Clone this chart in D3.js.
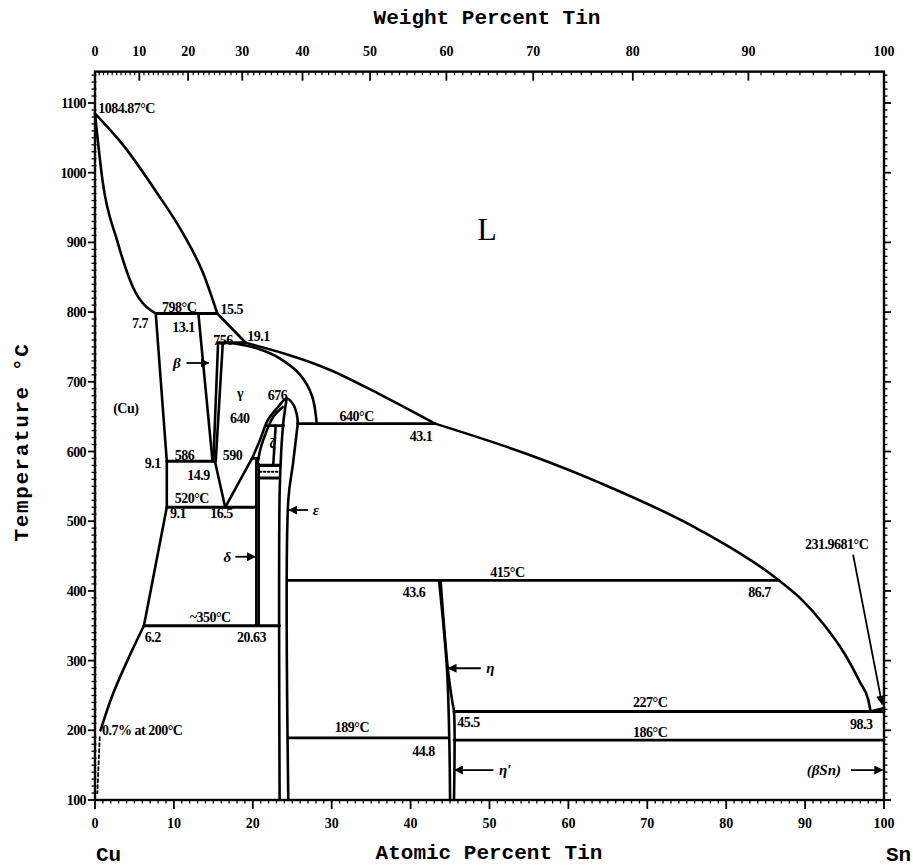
<!DOCTYPE html>
<html><head><meta charset="utf-8">
<script src="https://cdn.jsdelivr.net/npm/d3@7"></script>
<style>
body{margin:0;background:#fff}
svg text{font-family:"Liberation Serif",serif;font-weight:bold;fill:#000}
.title{font-family:"Liberation Mono",monospace}
</style>
</head><body>
<svg id="chart" width="913" height="866"></svg>
<script>
// ---------------- DATA ----------------
const atomicTicks = d3.range(0, 101, 10);
const weightTicks = d3.range(0, 101, 10);
const tempTicks = d3.range(100, 1101, 100);
const MASS_CU = 63.546, MASS_SN = 118.71;

// phase boundaries: [atomic % Sn, temperature °C]
const liquidusCu   = [[0,1084.87],[3.55,1040],[7.86,971],[11.15,913],[13.7,856],[15.5,798]];
const liquidusBeta = [[15.5,798],[19.1,756]];
const liquidusGam  = [[19.1,756],[29.8,717],[36.1,682],[43.1,640]];
const liquidusSnS  = [[43.1,640],[55.1,595],[64.0,555],[76.7,487],[86.7,415],[89.35,390],[92.5,350],[95.1,308],[97.0,268],[98.0,244],[98.3,227]];
const liquidusSn   = [[98.3,227],[100,231.97]];
const solidusCu    = [[0,1084.87],[1.0,985],[2.8,903],[4.8,836],[7.7,798]];
const cuBoundary   = [[7.7,798],[9.1,586],[9.1,520],[6.2,350]];
const cuSolvus     = [[6.2,350],[4.1,300],[2.2,250],[0.7,200]];
const cuSolvusLow  = [[0.6,190],[0.3,110]];
const betaLeft     = [[13.1,798],[14.9,586]];
const betaGammaA   = [[15.6,756],[15.0,586]];
const betaGammaB   = [[16.2,756],[15.3,586]];
const gammaLeftLow = [[15.2,586],[16.5,520]];
const gammaRightLow= [[16.5,520],[19.9,590]];
const gammaSolidus = [[17.2,756],[20.5,748],[23.5,733],[26.0,710],[27.5,680],[28.1,640]];
const domeOuter    = [[19.9,590],[20.9,616],[21.9,645],[23.2,664],[24.3,676],[25.1,668],[25.6,652],[25.7,640]];
const epsRight     = [[25.7,640],[25.1,583],[24.5,530],[24.5,100]];
const epsLeft      = [[24.3,676],[23.9,645],[23.6,600],[23.4,540],[23.4,100]];
const zetaArc      = [[20.6,582],[21.0,605],[21.7,628],[22.6,650],[23.8,664]];
const zetaRight    = [[22.9,637],[22.6,582]];
const deltaLeft    = [[20.45,590],[20.45,350]];
const deltaRight   = [[20.75,582],[20.75,350]];
const etaLeft      = [[43.6,415],[44.6,290],[44.9,189],[45.0,100]];
const etaRight     = [[43.8,415],[44.7,290],[45.3,240],[45.5,227],[45.5,100]];

const monoCurves = [liquidusCu, liquidusGam, liquidusSnS, solidusCu];
const smoothCurves = [cuSolvus, gammaSolidus, domeOuter, epsRight, epsLeft, zetaArc, etaLeft, etaRight];
const straightCurves = [liquidusBeta, liquidusSn, cuBoundary, betaLeft, betaGammaA, betaGammaB, gammaLeftLow, gammaRightLow, zetaRight, deltaLeft, deltaRight];

// invariant (horizontal) lines: [T, from at%, to at%]
const isotherms = [[798,7.7,15.5],[756,15.6,19.1],[640,25.7,43.1],[637,21.7,23.9],[586,9.1,15.2],[590,19.9,20.75],
  [580,20.6,23.4],[562,20.6,23.4],[520,9.1,20.45],[415,24.5,86.7],[350,6.2,23.4],[227,45.5,100],[189,24.5,44.8],[186,45.5,100]];

// labels: [text, at%, T]
const labels = [
  ["1084.87°C",0.4,1086],["798°C",8.5,800],["15.5",15.9,797],["7.7",4.7,777],["13.1",9.8,771],
  ["756",15.0,753],["19.1",19.3,758],["γ",18.0,677],["(Cu)",2.3,655],["676",21.9,674],
  ["640",17.1,641],["640°C",31.0,644],["43.1",39.9,615],["9.1",6.3,576],["586",10.1,588],["14.9",11.7,559],
  ["590",16.2,588],["520°C",10.1,526],["9.1",9.5,505],["16.5",14.6,505],["~350°C",12.0,355],
  ["6.2",6.3,327],["20.63",18.0,327],["415°C",50.1,420],["43.6",39.0,391],["86.7",82.8,391],
  ["227°C",68.2,233],["45.5",45.9,205],["98.3",95.7,202],["186°C",68.2,190],["189°C",30.4,197],
  ["44.8",40.2,163],["0.7% at 200°C",0.9,193],["231.9681°C",90.0,460],["ζ",22.1,605]
];
// arrow labels: [text, text at%, T, arrow from at%, arrow to at%]
const arrowLabels = [
  ["β",9.9,727,11.6,14.4],["δ",16.3,449,17.8,20.3],["ε",27.6,516,27.0,24.6],
  ["η",49.6,289,48.9,44.8],["η′",51.2,143,50.5,45.6],["(βSn)",90.2,143,95.8,99.8]
];
const leader = [[96.1,451],[99.75,238]];

// ---------------- DRAW ----------------
const svg = d3.select("#chart");
const X0 = 95, X1 = 884, YB = 800, YT = 103;
const x = d3.scaleLinear().domain([0,100]).range([X0,X1]);
const y = d3.scaleLinear().domain([100,1100]).range([YB,YT]);
const topT = 1145;
const wToA = w => w<=0?0:(w>=100?100:100*(w/MASS_SN)/((w/MASS_SN)+((100-w)/MASS_CU)));

svg.append("defs").append("marker").attr("id","ah").attr("viewBox","0 0 10 10")
  .attr("refX",9).attr("refY",5).attr("markerWidth",5).attr("markerHeight",5).attr("orient","auto")
  .append("path").attr("d","M0,0L10,5L0,10z").attr("fill","#000");

// frame
svg.append("rect").attr("x",X0).attr("y",y(topT)).attr("width",X1-X0).attr("height",YB-y(topT))
  .attr("fill","none").attr("stroke","#000").attr("stroke-width",2.4);

// bottom axis
const gB = svg.append("g");
d3.range(0,101,1).forEach(v=>{
  const major = v%10===0;
  gB.append("line").attr("x1",x(v)).attr("x2",x(v)).attr("y1",YB).attr("y2",YB+(major?9:3.5))
    .attr("stroke","#000").attr("stroke-width",major?1.8:1.3);
});
atomicTicks.forEach(v=>gB.append("text").attr("x",x(v)).attr("y",828).attr("text-anchor","middle")
  .attr("font-size",14).text(v));

// top axis (weight percent)
const gT = svg.append("g");
const yTop = y(topT);
d3.range(0,101,1).forEach(w=>{
  const major = w%10===0;
  gT.append("line").attr("x1",x(wToA(w))).attr("x2",x(wToA(w))).attr("y1",yTop).attr("y2",yTop+(major?9:3.5))
    .attr("stroke","#000").attr("stroke-width",major?1.8:1.2);
});
weightTicks.forEach(w=>gT.append("text").attr("x",x(wToA(w))).attr("y",56).attr("text-anchor","middle")
  .attr("font-size",14).text(w));

// left & right axes
const gL = svg.append("g");
d3.range(100,1141,10).forEach(t=>{
  const major = t%100===0;
  gL.append("line").attr("x1",X0-(major?7:3.5)).attr("x2",X0+(major?0:1.5)).attr("y1",y(t)).attr("y2",y(t))
    .attr("stroke","#000").attr("stroke-width",major?1.8:1.3);
  gL.append("line").attr("x1",X1).attr("x2",X1+(major?7:3.5)).attr("y1",y(t)).attr("y2",y(t))
    .attr("stroke","#000").attr("stroke-width",major?1.8:1.3);
});
tempTicks.forEach(t=>gL.append("text").attr("x",86).attr("y",y(t)+5).attr("text-anchor","end")
  .attr("font-size",14).attr("letter-spacing",-0.6).text(t));

// titles
svg.append("text").attr("class","title").attr("x",487).attr("y",24).attr("text-anchor","middle").attr("font-size",21).text("Weight Percent Tin");
svg.append("text").attr("class","title").attr("x",489).attr("y",859).attr("text-anchor","middle").attr("font-size",21).text("Atomic Percent Tin");
svg.append("text").attr("class","title").attr("x",96).attr("y",861).attr("font-size",21).text("Cu");
svg.append("text").attr("class","title").attr("x",886).attr("y",861).attr("font-size",21).text("Sn");
svg.append("text").attr("class","title").attr("transform","translate(28,442) rotate(-90)").attr("text-anchor","middle")
  .attr("font-size",21).attr("letter-spacing",1.6).text("Temperature °C");

// phase boundaries
const g = svg.append("g").attr("fill","none").attr("stroke","#000").attr("stroke-width",2.6).attr("stroke-linecap","round");
const mono = d3.line().x(d=>x(d[0])).y(d=>y(d[1])).curve(d3.curveMonotoneX);
const smooth = d3.line().x(d=>x(d[0])).y(d=>y(d[1])).curve(d3.curveCatmullRom.alpha(0.5));
const straight = d3.line().x(d=>x(d[0])).y(d=>y(d[1]));
monoCurves.forEach(c=>g.append("path").attr("d",mono(c)));
smoothCurves.forEach(c=>g.append("path").attr("d",smooth(c)));
straightCurves.forEach(c=>g.append("path").attr("d",straight(c)));
g.append("path").attr("d",straight(cuSolvusLow)).attr("stroke-dasharray","3,3").attr("stroke-width",1.8);
isotherms.forEach(([t,a,b])=>g.append("line").attr("x1",x(a)).attr("x2",x(b)).attr("y1",y(t)).attr("y2",y(t))
  .attr("stroke-width",t===580||t===562?3.2:2.8));
// dotted band inside small 582 box
g.append("line").attr("x1",x(20.9)).attr("x2",x(23.2)).attr("y1",y(571)).attr("y2",y(571))
  .attr("stroke-width",2).attr("stroke-dasharray","1.5,2.5");
g.append("path").attr("d",straight(leader)).attr("stroke-width",1.8).attr("marker-end","url(#ah)");

// labels
labels.forEach(([s,a,t])=>svg.append("text").attr("x",x(a)).attr("y",y(t)).attr("font-size",14)
  .attr("letter-spacing",-0.5).text(s));
svg.append("text").attr("x",x(49.7)).attr("y",y(903)).attr("text-anchor","middle").attr("font-size",32)
  .style("font-weight","normal").text("L");
arrowLabels.forEach(([s,a,t,f,to])=>{
  svg.append("text").attr("x",x(a)).attr("y",y(t)+5).attr("font-size",15).attr("font-style","italic").text(s);
  svg.append("line").attr("x1",x(f)).attr("x2",x(to)).attr("y1",y(t)).attr("y2",y(t))
    .attr("stroke","#000").attr("stroke-width",1.8).attr("marker-end","url(#ah)");
});
</script>
</body></html>
